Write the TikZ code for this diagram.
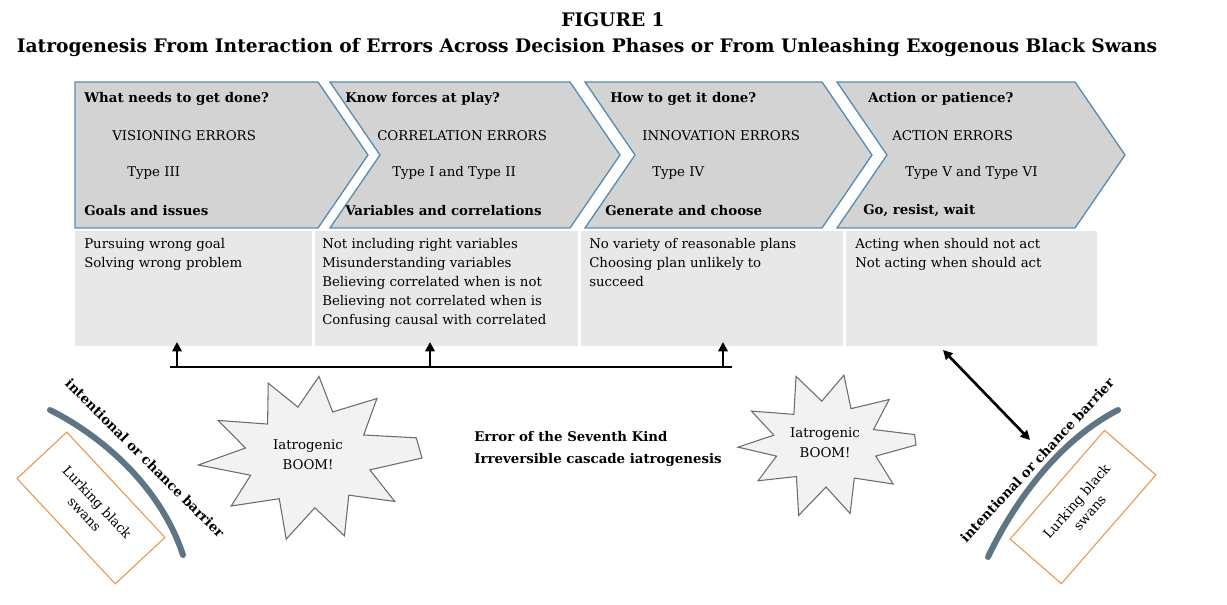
\documentclass[tikz,border=0pt]{standalone}
\usepackage{fontspec}
\setmainfont{DejaVu Serif}
\usetikzlibrary{shapes.geometric,arrows.meta}
\definecolor{chev}{HTML}{D3D3D3}
\definecolor{chevb}{HTML}{5A8CB0}
\definecolor{cellg}{HTML}{E8E8E8}
\definecolor{barr}{HTML}{5E7683}
\definecolor{swan}{HTML}{E8954E}
\begin{document}
\begin{tikzpicture}[x=0.75pt,y=-0.75pt,
  chevron/.style={fill=chev,draw=chevb,line width=1pt},
  cell/.style={fill=cellg,draw=none},
  txt/.style={anchor=west,font=\fontsize{10}{12}\selectfont,inner sep=0},
  btxt/.style={txt,font=\fontsize{10}{12}\selectfont\bfseries},
  list/.style={anchor=north west,align=left,font=\fontsize{10}{14.2}\selectfont,inner sep=0},
  boom/.style={draw=gray!85!black,fill=gray!10,line width=0.8pt},
  boomtxt/.style={align=center,font=\fontsize{10}{15}\selectfont,inner sep=0},
  swanbox/.style={draw=swan,line width=0.8pt,minimum width=144*0.75pt,minimum height=68*0.75pt,align=center,font=\fontsize{10}{13}\selectfont},
  bartxt/.style={font=\fontsize{10}{12}\selectfont\bfseries,inner sep=0},
  arr/.style={line width=2pt,-{Triangle[length=7pt,width=7pt]}}]
\useasboundingbox (0,0) rectangle (1227,605);
\node[font=\fontsize{14}{17}\selectfont\bfseries] (t1) at (613,20) {FIGURE 1};
\node[font=\fontsize{14}{17}\selectfont\bfseries] (t2) at (587,47) {Iatrogenesis From Interaction of Errors Across Decision Phases or From Unleashing Exogenous Black Swans};
% chevrons
\draw[chevron] (75,82) -- (318,82) -- (368,155) -- (318,228) -- (75,228) -- cycle;
\draw[chevron] (330,82) -- (570,82) -- (620,155) -- (570,228) -- (330,228) -- (380,155) -- cycle;
\draw[chevron] (585,82) -- (822,82) -- (872,155) -- (822,228) -- (585,228) -- (635,155) -- cycle;
\draw[chevron] (837,82) -- (1075,82) -- (1125,155) -- (1075,228) -- (837,228) -- (887,155) -- cycle;
\node[btxt] (a1) at (84,99) {What needs to get done?};
\node[txt] (a2) at (112,136) {VISIONING ERRORS};
\node[txt] (a3) at (127,173) {Type III};
\node[btxt] (a4) at (84,211) {Goals and issues};
\node[btxt] (b1) at (345,99) {Know forces at play?};
\node[txt] (b2) at (377,136) {CORRELATION ERRORS};
\node[txt] (b3) at (392,173) {Type I and Type II};
\node[btxt] (b4) at (345,211) {Variables and correlations};
\node[btxt] (c1) at (610,99) {How to get it done?};
\node[txt] (c2) at (642,136) {INNOVATION ERRORS};
\node[txt] (c3) at (652,173) {Type IV};
\node[btxt] (c4) at (605,211) {Generate and choose};
\node[btxt] (d1) at (868,99) {Action or patience?};
\node[txt] (d2) at (892,136) {ACTION ERRORS};
\node[txt] (d3) at (905,173) {Type V and Type VI};
\node[btxt] (d4) at (863,211) {Go, resist, wait};
% cells
\fill[cell] (75,231) rectangle (312,346);
\fill[cell] (315,231) rectangle (578,346);
\fill[cell] (581,231) rectangle (843,346);
\fill[cell] (846,231) rectangle (1097,346);
\node[list] (l1) at (84,238) {Pursuing wrong goal\\Solving wrong problem};
\node[list] (l2) at (322,238) {Not including right variables\\Misunderstanding variables\\Believing correlated when is not\\Believing not correlated when is\\Confusing causal with correlated};
\node[list] (l3) at (589,238) {No variety of reasonable plans\\Choosing plan unlikely to\\succeed};
\node[list] (l4) at (855,238) {Acting when should not act\\Not acting when should act};
% arrows
\coordinate (h1) at (170,367);
\coordinate (h2) at (732,367);
\coordinate (u1) at (177,367); \coordinate (v1) at (177,342);
\coordinate (u2) at (430,367); \coordinate (v2) at (430,342);
\coordinate (u3) at (723,367); \coordinate (v3) at (723,342);
\draw[line width=2pt] (h1) -- (h2);
\draw[arr] (u1) -- (v1);
\draw[arr] (u2) -- (v2);
\draw[arr] (u3) -- (v3);
\coordinate (da) at (943,350); \coordinate (db) at (1030,440);
\draw[line width=2pt,{Triangle[length=7pt,width=7pt]}-{Triangle[length=7pt,width=7pt]}] (da) -- (db);
% booms
\begin{scope}[shift={(310,458)}]
\draw[boom] (0:112 and 80) -- (15:62 and 46) -- (32:100 and 82) -- (48:58 and 50) -- (68:92 and 84) -- (85:55 and 50) -- (105:92 and 84) -- (122:58 and 48) -- (142:100 and 78) -- (158:64 and 46) -- (175:112 and 80) -- (192:66 and 48) -- (208:104 and 80) -- (225:60 and 48) -- (243:92 and 84) -- (258:58 and 52) -- (276:86 and 82) -- (293:58 and 50) -- (312:100 and 80) -- (330:62 and 46) -- (345:110 and 78) -- cycle;
\end{scope}
\node[boomtxt] (boomL) at (308,455) {Iatrogenic\\BOOM!};
\begin{scope}[shift={(826,445)}]
\draw[boom] (0:90 and 62) -- (17:52 and 38) -- (35:82 and 68) -- (52:46 and 42) -- (72:78 and 72) -- (90:44 and 42) -- (110:80 and 75) -- (128:48 and 40) -- (146:82 and 64) -- (162:52 and 36) -- (178:88 and 62) -- (195:54 and 38) -- (212:88 and 64) -- (230:50 and 40) -- (248:80 and 74) -- (265:48 and 44) -- (284:74 and 72) -- (300:50 and 42) -- (318:85 and 68) -- (336:52 and 38) -- (350:90 and 60) -- cycle;
\end{scope}
\node[boomtxt] (boomR) at (825,443) {Iatrogenic\\BOOM!};
\node[anchor=west,font=\fontsize{10}{12}\selectfont\bfseries,inner sep=0] (e1) at (474,437) {Error of the Seventh Kind};
\node[anchor=west,font=\fontsize{10}{12}\selectfont\bfseries,inner sep=0] (e2) at (474,460) {Irreversible cascade iatrogenesis};
% left barrier
\draw[barr,line width=4.5pt,line cap=round] (50,410) .. controls (100,435) and (160,485) .. (183,555);
\node[bartxt,rotate=-45] (bl) at (145,458) {intentional or chance barrier};
\node[swanbox,rotate=-47] (sl) at (91,508) {Lurking black\\swans};
% right barrier
\draw[barr,line width=4.5pt,line cap=round] (988,557) .. controls (1015,500) and (1060,440) .. (1118,410);
\node[bartxt,rotate=47] (br) at (1037,460) {intentional or chance barrier};
\node[swanbox,rotate=49] (sr) at (1083,507) {Lurking black\\swans};
\end{tikzpicture}
\end{document}
